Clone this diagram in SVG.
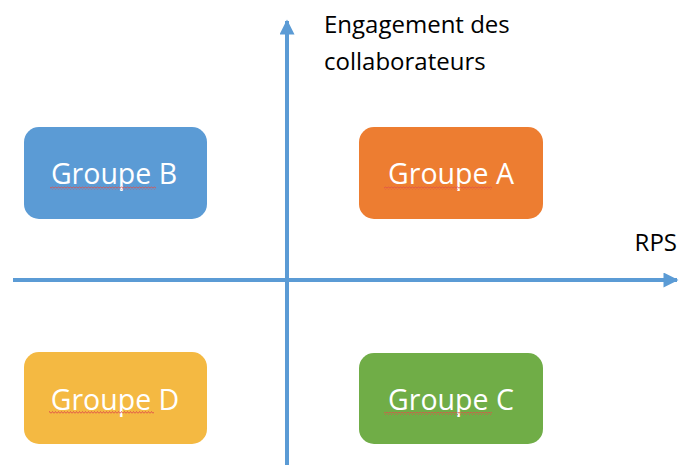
<svg xmlns="http://www.w3.org/2000/svg" width="680" height="465" viewBox="0 0 680 465">
<defs>
<style>
.box{stroke:none}
.lbl{font-family:"Open Sans","Liberation Sans",sans-serif;font-size:28.5px;fill:#ffffff;text-anchor:middle}
.ax{stroke:#5B9BD5;stroke-width:4;fill:none}
.axt{font-family:"Open Sans","Liberation Sans",sans-serif;font-size:24px;fill:#000000}
.sq{fill:url(#squig)}
</style>
<pattern id="squig" x="0" y="0" width="3" height="3" patternUnits="userSpaceOnUse">
<path d="M0,2.5 L1.5,0.5 L3,2.5" stroke="#E0504A" stroke-width="0.9" fill="none"/>
</pattern>
<marker id="ah" viewBox="0 0 10 10" refX="9" refY="5" markerUnits="userSpaceOnUse" markerWidth="16" markerHeight="15" orient="auto">
<path d="M0,0 L10,5 L0,10 Z" fill="#5B9BD5"/>
</marker>
</defs>
<rect width="680" height="465" fill="#ffffff"/>
<g id="axes">
<line class="ax" x1="287" y1="465" x2="287" y2="21" marker-end="url(#ah)"/>
<line class="ax" x1="13" y1="280" x2="677" y2="280" marker-end="url(#ah)"/>
</g>
<g id="label-y">
<text class="axt" x="324" y="33">Engagement des</text>
<text class="axt" x="324" y="70">collaborateurs</text>
</g>
<g id="label-x">
<text class="axt" x="677" y="251" text-anchor="end">RPS</text>
</g>
<g id="groupe-b">
<rect class="box" x="24" y="127" width="183" height="92" rx="15" fill="#5B9BD5"/>
<text class="lbl" x="114" y="184">Groupe B</text>
<rect class="sq" x="50" y="186.5" width="106" height="3"/>
</g>
<g id="groupe-a">
<rect class="box" x="359" y="127" width="184" height="92" rx="15" fill="#ED7D31"/>
<text class="lbl" x="451" y="184">Groupe A</text>
<rect class="sq" x="384" y="186.5" width="108" height="3"/>
</g>
<g id="groupe-d">
<rect class="box" x="24" y="352" width="183" height="92" rx="15" fill="#F4B942"/>
<text class="lbl" x="115" y="410">Groupe D</text>
<rect class="sq" x="49" y="411" width="105" height="3"/>
</g>
<g id="groupe-c">
<rect class="box" x="359" y="353" width="184" height="91" rx="15" fill="#70AD47"/>
<text class="lbl" x="451" y="410">Groupe C</text>
<rect class="sq" x="384" y="412" width="108" height="3"/>
</g>
</svg>
